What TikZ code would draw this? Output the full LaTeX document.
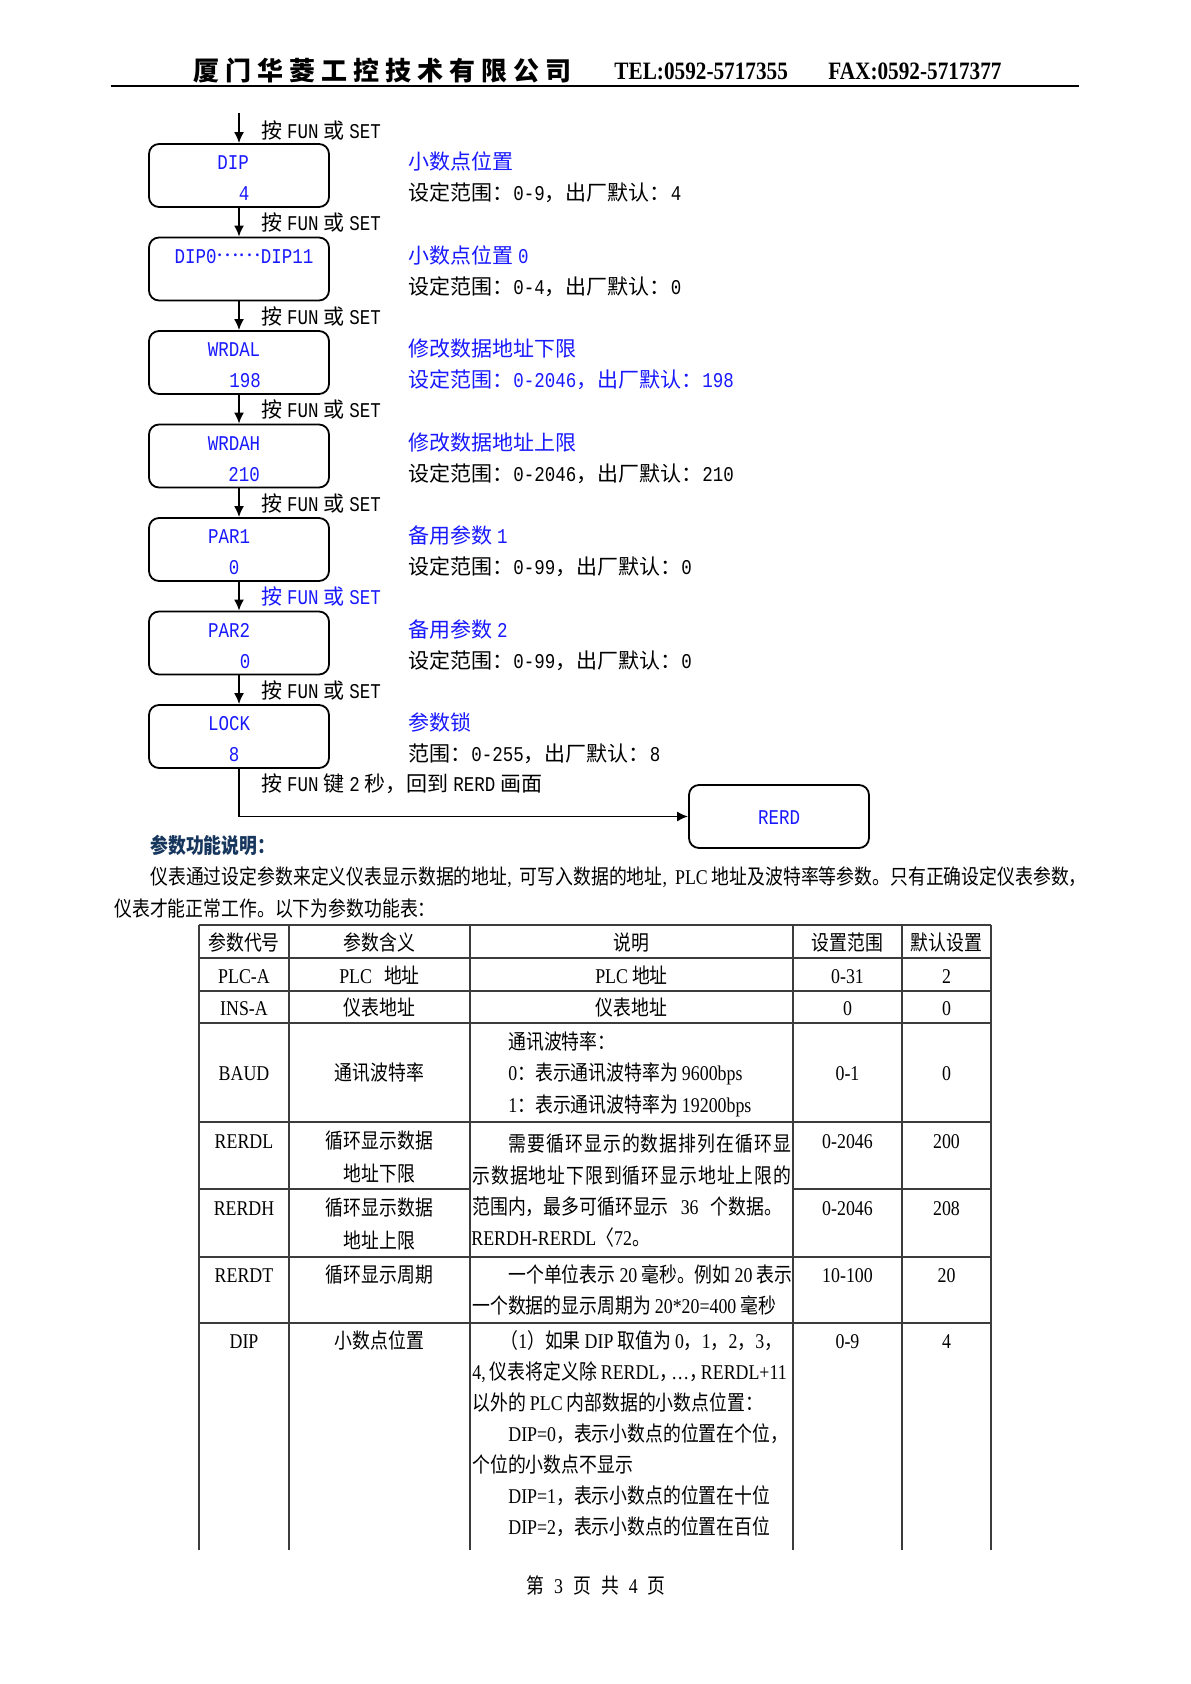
\documentclass[tikz,border=0pt]{standalone}
\usepackage{fontspec}
\usetikzlibrary{arrows.meta}
\newfontfamily\cjk{Noto Sans CJK SC}
\newfontfamily\cjkn{Noto Sans CJK SC}[FakeStretch=0.85]
\newfontfamily\tnr{Liberation Serif}[FakeStretch=0.85]
\newfontfamily\lmono{Liberation Mono}[FakeStretch=0.8333]
\definecolor{fblue}{RGB}{25,25,255}
\definecolor{navy}{RGB}{23,54,93}
\definecolor{tline}{RGB}{60,60,60}
\newcommand\fm[1]{{\lmono #1}}
\newcommand\ft[1]{{\tnr #1}}
\newcommand\gp{\hspace{2.4pt}}
\newcommand\hsp{\hspace{3pt}}
\newcommand\press{按\gp\fm{FUN}\gp 或\gp\fm{SET}}
\def\jsta#1{#1\jstb}
\def\jstb#1{\ifx\relax#1\else\hfil#1\expandafter\jstb\fi}
\newcommand\jst[2]{\makebox[#1][s]{\jsta#2\relax}}
\tikzset{
  every node/.style={inner sep=0pt, text height=9.2pt, text depth=1.3pt},
  fc/.style={font=\cjk\fontsize{10.5pt}{12pt}\selectfont},
  tb/.style={font=\cjkn\fontsize{10.5pt}{12pt}\selectfont},
  bt/.style={font=\lmono\fontsize{10.5pt}{12pt}\selectfont, text=fblue},
  hd/.style={font=\cjk\bfseries\fontsize{13pt}{15pt}\selectfont, text height=11.4pt, text depth=1.6pt, anchor=west},
  tel/.style={font=\tnr\bfseries\fontsize{12.5pt}{14pt}\selectfont, text height=10pt, text depth=1.4pt, anchor=west},
  fbox/.style={draw, line width=0.9pt, rounded corners=5pt, minimum width=90pt, minimum height=31.5pt},
  arr/.style={line width=0.9pt, -{Latex[length=5.5pt,width=5pt]}},
  tl/.style={draw=tline, line width=0.9pt},
  lab/.style={fc, anchor=west},
}
\begin{document}
\begin{tikzpicture}[x=0.5pt,y=-0.5pt]
\fill[white] (0,0) rectangle (1190,1684);
\useasboundingbox (0,0) rectangle (1190,1684);

% ---------- header ----------
\node[hd] (co) at (193,71) {厦\hsp 门\hsp 华\hsp 菱\hsp 工\hsp 控\hsp 技\hsp 术\hsp 有\hsp 限\hsp 公\hsp 司};
\node[tel] (tel) at (614,71) {TEL:0592-5717355};
\node[tel] (fax) at (828,71) {FAX:0592-5717377};
\draw[line width=1.4pt] (111,86) -- (1079,86);

% ---------- flow boxes ----------
\node[fbox] (b1) at (239,175.5) {};
\node[fbox] (b2) at (239,269) {};
\node[fbox] (b3) at (239,362.5) {};
\node[fbox] (b4) at (239,456) {};
\node[fbox] (b5) at (239,549.5) {};
\node[fbox] (b6) at (239,643) {};
\node[fbox] (b7) at (239,736.5) {};
\node[fbox, bt] (rerd) at (779,816.5) {RERD};

\node[bt] (b1a) at (233,162) {DIP};
\node[bt] (b1b) at (244,193) {4};
\node[bt] (b2a) at (244,255.5) {DIP0\raisebox{0.32em}{\cjk ……}DIP11};
\node[bt] (b3a) at (234,349) {WRDAL};
\node[bt] (b3b) at (245,380) {198};
\node[bt] (b4a) at (234,442.5) {WRDAH};
\node[bt] (b4b) at (244,473.5) {210};
\node[bt] (b5a) at (229,536) {PAR1};
\node[bt] (b5b) at (234,567) {0};
\node[bt] (b6a) at (229,629.5) {PAR2};
\node[bt] (b6b) at (245,660.5) {0};
\node[bt] (b7a) at (229,723) {LOCK};
\node[bt] (b7b) at (234,754) {8};

% ---------- connectors ----------
\coordinate (start) at (239,113);
\draw[arr] (start) -- (b1.north);
\draw[arr] (b1.south) -- (b2.north);
\draw[arr] (b2.south) -- (b3.north);
\draw[arr] (b3.south) -- (b4.north);
\draw[arr] (b4.south) -- (b5.north);
\draw[arr] (b5.south) -- (b6.north);
\draw[arr] (b6.south) -- (b7.north);
\draw[arr] (b7.south) |- (rerd.west);

\node[lab] (l1) at (261,131) {\press};
\node[lab] (l2) at (261,223) {\press};
\node[lab] (l3) at (261,316.5) {\press};
\node[lab] (l4) at (261,410) {\press};
\node[lab] (l5) at (261,503.5) {\press};
\node[lab, text=fblue] (l6) at (261,597) {\press};
\node[lab] (l7) at (261,690.5) {\press};
\node[lab] (l8) at (261,784) {按\gp\fm{FUN}\gp 键\gp\fm{2}\gp 秒，回到\gp\fm{RERD}\gp 画面};

% ---------- descriptions ----------
\node[lab, text=fblue] (t1) at (408,162) {小数点位置};
\node[lab] (d1) at (408,193) {设定范围：\fm{0-9}，出厂默认：\fm{4}};
\node[lab, text=fblue] (t2) at (408,255.5) {小数点位置\gp\fm{0}};
\node[lab] (d2) at (408,286.5) {设定范围：\fm{0-4}，出厂默认：\fm{0}};
\node[lab, text=fblue] (t3) at (408,349) {修改数据地址下限};
\node[lab, text=fblue] (d3) at (408,380) {设定范围：\fm{0-2046}，出厂默认：\fm{198}};
\node[lab, text=fblue] (t4) at (408,442.5) {修改数据地址上限};
\node[lab] (d4) at (408,473.5) {设定范围：\fm{0-2046}，出厂默认：\fm{210}};
\node[lab, text=fblue] (t5) at (408,536) {备用参数\gp\fm{1}};
\node[lab] (d5) at (408,567) {设定范围：\fm{0-99}，出厂默认：\fm{0}};
\node[lab, text=fblue] (t6) at (408,629.5) {备用参数\gp\fm{2}};
\node[lab] (d6) at (408,660.5) {设定范围：\fm{0-99}，出厂默认：\fm{0}};
\node[lab, text=fblue] (t7) at (408,723) {参数锁};
\node[lab] (d7) at (408,754) {范围：\fm{0-255}，出厂默认：\fm{8}};

% ---------- paragraph ----------
\node[tb, anchor=west, text=navy, font=\cjkn\bfseries\fontsize{10.5pt}{12pt}\selectfont] (sec) at (150,846) {参数功能说明：};
\node[tb, anchor=west] (p1) at (150,877) {仪表通过设定参数来定义仪表显示数据的地址\ft{,}\hspace{4pt}可写入数据的地址\ft{,}\hspace{4pt}\ft{PLC} 地址及波特率等参数。只有正确设定仪表参数，};
\node[tb, anchor=west] (p2) at (114,909) {仪表才能正常工作。以下为参数功能表：};

% ---------- table grid ----------
\foreach \x in {199,289,470,793,902,991} \draw[tl] (\x,925) -- (\x,1550);
\foreach \y in {925,958,991,1023,1122,1257,1323} \draw[tl] (199,\y) -- (991,\y);
\draw[tl] (199,1189) -- (470,1189);
\draw[tl] (793,1189) -- (991,1189);

% header row
\node[tb] (h1) at (244,943) {参数代号};
\node[tb] (h2) at (379.5,943) {参数含义};
\node[tb] (h3) at (631.5,943) {说明};
\node[tb] (h4) at (847.5,943) {设置范围};
\node[tb] (h5) at (946.5,943) {默认设置};
% PLC-A
\node[tb] (r1a) at (244,976) {\ft{PLC-A}};
\node[tb] (r1b) at (379.5,976) {\ft{PLC}\hspace{6pt}地址};
\node[tb] (r1c) at (631.5,976) {\ft{PLC} 地址};
\node[tb] (r1d) at (847.5,976) {\ft{0-31}};
\node[tb] (r1e) at (946.5,976) {\ft{2}};
% INS-A
\node[tb] (r2a) at (244,1008) {\ft{INS-A}};
\node[tb] (r2b) at (379.5,1008) {仪表地址};
\node[tb] (r2c) at (631.5,1008) {仪表地址};
\node[tb] (r2d) at (847.5,1008) {\ft{0}};
\node[tb] (r2e) at (946.5,1008) {\ft{0}};
% BAUD
\node[tb] (r3a) at (244,1073) {\ft{BAUD}};
\node[tb] (r3b) at (379.5,1073) {通讯波特率};
\node[tb, anchor=west] (r3c1) at (508,1042) {通讯波特率：};
\node[tb, anchor=west] (r3c2) at (508,1073) {\ft{0}：表示通讯波特率为 \ft{9600bps}};
\node[tb, anchor=west] (r3c3) at (508,1105) {\ft{1}：表示通讯波特率为 \ft{19200bps}};
\node[tb] (r3d) at (847.5,1073) {\ft{0-1}};
\node[tb] (r3e) at (946.5,1073) {\ft{0}};
% RERDL
\node[tb] (r4a) at (244,1141) {\ft{RERDL}};
\node[tb] (r4b) at (379.5,1141) {循环显示数据};
\node[tb] (r4b2) at (379.5,1174) {地址下限};
\node[tb] (r4d) at (847.5,1141) {\ft{0-2046}};
\node[tb] (r4e) at (946.5,1141) {\ft{200}};
\node[tb, anchor=west] (r4c1) at (508,1144) {\jst{141.5pt}{需要循环显示的数据排列在循环显}};
\node[tb, anchor=west] (r4c2) at (472,1176) {\jst{159.5pt}{示数据地址下限到循环显示地址上限的}};
\node[tb, anchor=west] (r4c3) at (472,1207) {范围内，最多可循环显示\hspace{6pt}\ft{36}\hspace{6pt}个数据。};
\node[tb, anchor=west] (r4c4) at (471,1238) {\ft{RERDH-RERDL}〈\ft{72}。};
% RERDH
\node[tb] (r5a) at (244,1208) {\ft{RERDH}};
\node[tb] (r5b) at (379.5,1208) {循环显示数据};
\node[tb] (r5b2) at (379.5,1241) {地址上限};
\node[tb] (r5d) at (847.5,1208) {\ft{0-2046}};
\node[tb] (r5e) at (946.5,1208) {\ft{208}};
% RERDT
\node[tb] (r6a) at (244,1275) {\ft{RERDT}};
\node[tb] (r6b) at (379.5,1275) {循环显示周期};
\node[tb, anchor=west] (r6c1) at (508,1275) {一个单位表示 \ft{20} 毫秒。例如 \ft{20} 表示};
\node[tb, anchor=west] (r6c2) at (472,1306) {一个数据的显示周期为 \ft{20*20=400} 毫秒};
\node[tb] (r6d) at (847.5,1275) {\ft{10-100}};
\node[tb] (r6e) at (946.5,1275) {\ft{20}};
% DIP
\node[tb] (r7a) at (244,1341) {\ft{DIP}};
\node[tb] (r7b) at (379.5,1341) {小数点位置};
\node[tb] (r7d) at (847.5,1341) {\ft{0-9}};
\node[tb] (r7e) at (946.5,1341) {\ft{4}};
\node[tb, anchor=west] (r7c1) at (500,1341) {（\ft{1}）如果 \ft{DIP} 取值为 \ft{0}，\ft{1}，\ft{2}，\ft{3}，};
\node[tb, anchor=west] (r7c2) at (472,1372) {\ft{4,} 仪表将定义除 \ft{RERDL}，\hspace{-3pt}\ft{…}，\hspace{-3pt}\ft{RERDL+11}};
\node[tb, anchor=west] (r7c3) at (472,1403) {以外的 \ft{PLC} 内部数据的小数点位置：};
\node[tb, anchor=west] (r7c4) at (508,1434) {\ft{DIP=0}，表示小数点的位置在个位，};
\node[tb, anchor=west] (r7c5) at (472,1465) {个位的小数点不显示};
\node[tb, anchor=west] (r7c6) at (508,1496) {\ft{DIP=1}，表示小数点的位置在十位};
\node[tb, anchor=west] (r7c7) at (508,1527) {\ft{DIP=2}，表示小数点的位置在百位};

% ---------- footer ----------
\node[tb] (foot) at (596,1586) {第\hspace{5pt}\ft{3}\hspace{5pt}页\hspace{5pt}共\hspace{5pt}\ft{4}\hspace{5pt}页};
\end{tikzpicture}
\end{document}
